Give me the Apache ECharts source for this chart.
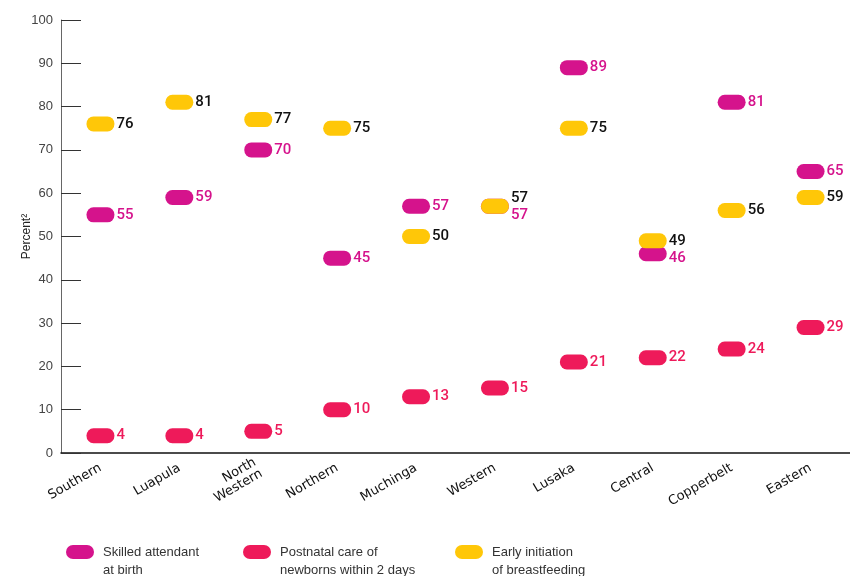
<!DOCTYPE html>
<html>
<head>
<meta charset="utf-8">
<script src="https://cdn.jsdelivr.net/npm/echarts@6/dist/echarts.min.js"></script>
<style>html,body{margin:0;padding:0;background:#fff;}#c{width:850px;height:576px;}</style>
</head>
<body>
<div id="c"></div>
<script>
const categories = ['Southern', 'Luapula', 'North\nWestern', 'Northern', 'Muchinga', 'Western', 'Lusaka', 'Central', 'Copperbelt', 'Eastern'];
const skilled = [55, 59, 70, 45, 57, 57, 89, 46, 81, 65];
const postnatal = [4, 4, 5, 10, 13, 15, 21, 22, 24, 29];
const breastfeeding = [76, 81, 77, 75, 50, 57, 75, 49, 56, 59];
const yTicks = [0, 10, 20, 30, 40, 50, 60, 70, 80, 90, 100];

const C_SK = '#D5138C', C_PN = '#EE1A5A', C_BF = '#FFC708';
const pill = 'path://M7,0 H21 A7,7 0 0 1 21,14 H7 A7,7 0 0 1 7,0 Z';
const labelFont = 'Roboto';

function mk(name, vals, color, labelColor, offsets) {
  return {
    name: name, type: 'scatter', symbol: pill, symbolSize: [28, 15],
    itemStyle: { color: color, opacity: 1 },
    data: vals.map((v, i) => {
      const d = { value: v };
      if (offsets && offsets[i]) d.label = { offset: offsets[i] };
      return d;
    }),
    label: { show: true, position: 'right', distance: 2, color: labelColor,
      fontFamily: labelFont, fontSize: 15, fontWeight: 500 },
    emphasis: { disabled: true }
  };
}

const chart = echarts.init(document.getElementById('c'));
const legendBase = {
  top: 525, padding: 0, itemWidth: 28, itemHeight: 15, icon: pill, itemGap: 10,
  selectedMode: false,
  formatter: n => '\n' + n,
  textStyle: { color: '#333', fontSize: 13, fontFamily: 'Liberation Sans', lineHeight: 18, padding: [0, 0, 0, 4] }
};
const legendNames = ['Skilled attendant\nat birth', 'Postnatal care of\nnewborns within 2 days', 'Early initiation\nof breastfeeding'];
chart.setOption({
  animation: false,
  grid: { left: 61, right: -6, top: 20, bottom: 123, containLabel: false },
  xAxis: {
    type: 'category', data: categories, boundaryGap: true,
    axisLine: { lineStyle: { color: '#111', width: 1.5 } },
    axisTick: { inside: true, length: 12, lineStyle: { color: '#333' } },
    axisLabel: { rotate: 30, color: '#111', fontSize: 13, fontFamily: 'DejaVu Sans', margin: 14, interval: 0 }
  },
  yAxis: {
    type: 'value', min: 0, max: 100, interval: 10,
    name: 'Percent²', nameLocation: 'middle', nameGap: 28, nameRotate: 90, nameMoveOverlap: false,
    nameTextStyle: { color: '#222', fontSize: 12, fontFamily: 'Liberation Sans' },
    axisLine: { show: true, lineStyle: { color: '#666', width: 1 } },
    axisTick: { show: true, inside: true, length: 20, lineStyle: { color: '#333' } },
    splitLine: { show: false },
    axisLabel: { color: '#444', fontSize: 13, fontFamily: 'Liberation Sans', margin: 8,
      formatter: v => yTicks.includes(v) ? String(v) : '' }
  },
  legend: [
    Object.assign({}, legendBase, { left: 66, data: [legendNames[0]] }),
    Object.assign({}, legendBase, { left: 243, data: [legendNames[1]] }),
    Object.assign({}, legendBase, { left: 455, data: [legendNames[2]] })
  ],
  series: [
    mk(legendNames[0], skilled, C_SK, C_SK, { 5: [0, 9], 7: [0, 4] }),
    mk(legendNames[1], postnatal, C_PN, C_PN),
    mk(legendNames[2], breastfeeding, C_BF, '#111', { 5: [0, -8] })
  ]
});
</script>
</body>
</html>
